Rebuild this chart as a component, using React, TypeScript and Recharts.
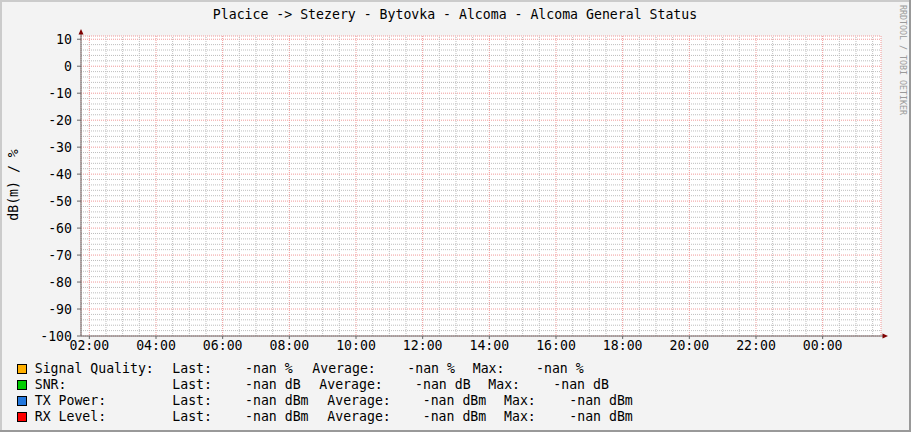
import React from 'react';
import { LineChart, Line, XAxis, YAxis, CartesianGrid, ReferenceLine } from 'recharts';

// ---- data (all values are NaN in the source graph -> no data drawn) ----
const sampleHours = [2, 4, 6, 8, 10, 12, 14, 16, 18, 20, 22, 24];
const signalQuality = [null, null, null, null, null, null, null, null, null, null, null, null];
const snr = [null, null, null, null, null, null, null, null, null, null, null, null];
const txPower = [null, null, null, null, null, null, null, null, null, null, null, null];
const rxLevel = [null, null, null, null, null, null, null, null, null, null, null, null];

const xTickHours = [2, 4, 6, 8, 10, 12, 14, 16, 18, 20, 22, 24];
const xTickLabels = ['02:00', '04:00', '06:00', '08:00', '10:00', '12:00', '14:00', '16:00', '18:00', '20:00', '22:00', '00:00'];
const yTicks = [-100, -90, -80, -70, -60, -50, -40, -30, -20, -10, 0, 10];

const legendNames = ['Signal Quality:', 'SNR:', 'TX Power:', 'RX Level:'];
const legendUnits = ['%', 'dB', 'dBm', 'dBm'];
const legendLast = ['-nan', '-nan', '-nan', '-nan'];
const legendAverage = ['-nan', '-nan', '-nan', '-nan'];
const legendMax = ['-nan', '-nan', '-nan', '-nan'];
const seriesColors = ['#FFB000', '#00CC00', '#2277DD', '#FF0000'];
const seriesKeys = ['signalQuality', 'snr', 'txPower', 'rxLevel'];

const data = sampleHours.map((h, i) => ({
  hour: h,
  signalQuality: signalQuality[i],
  snr: snr[i],
  txPower: txPower[i],
  rxLevel: rxLevel[i],
}));

// minor grid positions (every 30 min / 2 units, skipping the major ones)
const minorX: number[] = [];
for (let h = 2.5; h <= 25.5; h += 0.5) if (xTickHours.indexOf(h) < 0) minorX.push(h);
const minorY: number[] = [];
for (let v = -98; v <= 10; v += 2) if (yTicks.indexOf(v) < 0) minorY.push(v);

// layout (styles, not data)
const FONT = '"DejaVu Sans Mono", monospace';
const FS = 13.2;
const rowBaselines = [373, 389, 405, 421];
const avgLabelX = [312.3, 319.3, 327.3, 327.3];
const avgValX = [407.3, 415, 422.7, 422.7];
const maxLabelX = [472.7, 488.3, 504, 504];
const maxValX = [536, 553.3, 569.3, 569.3];
const MINOR = '#bdbdbd';
const MAJOR = '#f09898';

export default function App() {
  return (
    <div style={{ position: 'absolute', left: 0, top: 0, width: 911, height: 432, background: '#F3F3F3' }}>
      <div style={{ position: 'absolute', left: 0, top: 0 }}>
        <LineChart
          width={911}
          height={432}
          data={data}
          margin={{ top: 36, right: 30, bottom: 0, left: 0 }}
        >
          <CartesianGrid fill="#ffffff" stroke={MAJOR} strokeDasharray="1 1" />
          {minorX.map((h) => (
            <ReferenceLine key={'mx' + h} x={h} stroke={MINOR} strokeDasharray="1 1" ifOverflow="hidden" />
          ))}
          {minorY.map((v) => (
            <ReferenceLine key={'my' + v} y={v} stroke={MINOR} strokeDasharray="1 1" ifOverflow="hidden" />
          ))}
          <XAxis
            dataKey="hour"
            type="number"
            domain={[1.75, 25.75]}
            allowDataOverflow
            ticks={xTickHours}
            interval={0}
            tickFormatter={(v: number) => xTickLabels[xTickHours.indexOf(v)]}
            tick={{ fill: '#000', fontSize: FS, fontFamily: FONT }}
            tickSize={3}
            tickMargin={2}
            height={96}
            stroke="#666"
          />
          <YAxis
            type="number"
            domain={[-100, 11.2]}
            allowDataOverflow
            ticks={yTicks}
            interval={0}
            tick={{ fill: '#000', fontSize: FS, fontFamily: FONT }}
            tickSize={4}
            tickMargin={5}
            width={81}
            stroke="#666"
          />
          {seriesKeys.map((k, i) => (
            <Line key={k} dataKey={k} stroke={seriesColors[i]} dot={false} isAnimationActive={false} connectNulls={false} />
          ))}
        </LineChart>
      </div>
      <svg
        width={911}
        height={432}
        style={{ position: 'absolute', left: 0, top: 0, pointerEvents: 'none' }}
        fontFamily={FONT}
      >
        {/* frame shading */}
        <rect x={0} y={0} width={911} height={2} fill="#CBCBCB" />
        <rect x={0} y={0} width={2} height={432} fill="#CBCBCB" />
        <rect x={909} y={0} width={2} height={432} fill="#999999" />
        <rect x={0} y={430} width={911} height={2} fill="#999999" />

        {/* title */}
        <text x={455} y={19} textAnchor="middle" fontSize={FS} fill="#000">
          Placice -&gt; Stezery - Bytovka - Alcoma - Alcoma General Status
        </text>

        {/* vertical label */}
        <text x={13} y={185} textAnchor="middle" dominantBaseline="central" fontSize={FS} fill="#000" transform="rotate(-90 13 185)">
          dB(m) / %
        </text>

        {/* watermark */}
        <text x={903} y={60} textAnchor="middle" dominantBaseline="central" fontSize={8.3} fill="#9a9a9a" transform="rotate(90 903 60)">
          RRDTOOL / TOBI OETIKER
        </text>

        {/* axis arrows */}
        <line x1={81} y1={36} x2={81} y2={33} stroke="#666" />
        <polygon points="78.5,34.5 83.5,34.5 81,29" fill="#7F0000" />
        <line x1={881} y1={336} x2={884} y2={336} stroke="#666" />
        <polygon points="882.5,333.5 882.5,338.5 888,336" fill="#7F0000" />

        {/* legend */}
        {legendNames.map((name, i) => (
          <g key={name} fontSize={FS} fill="#000">
            <rect x={17.5} y={rowBaselines[i] - 8.5} width={9} height={9} fill={seriesColors[i]} stroke="#000" />
            <text x={34.7} y={rowBaselines[i]}>{name}</text>
            <text x={172.3} y={rowBaselines[i]}>Last:</text>
            <text x={245} y={rowBaselines[i]}>{legendLast[i] + ' ' + legendUnits[i]}</text>
            <text x={avgLabelX[i]} y={rowBaselines[i]}>Average:</text>
            <text x={avgValX[i]} y={rowBaselines[i]}>{legendAverage[i] + ' ' + legendUnits[i]}</text>
            <text x={maxLabelX[i]} y={rowBaselines[i]}>Max:</text>
            <text x={maxValX[i]} y={rowBaselines[i]}>{legendMax[i] + ' ' + legendUnits[i]}</text>
          </g>
        ))}
      </svg>
    </div>
  );
}
